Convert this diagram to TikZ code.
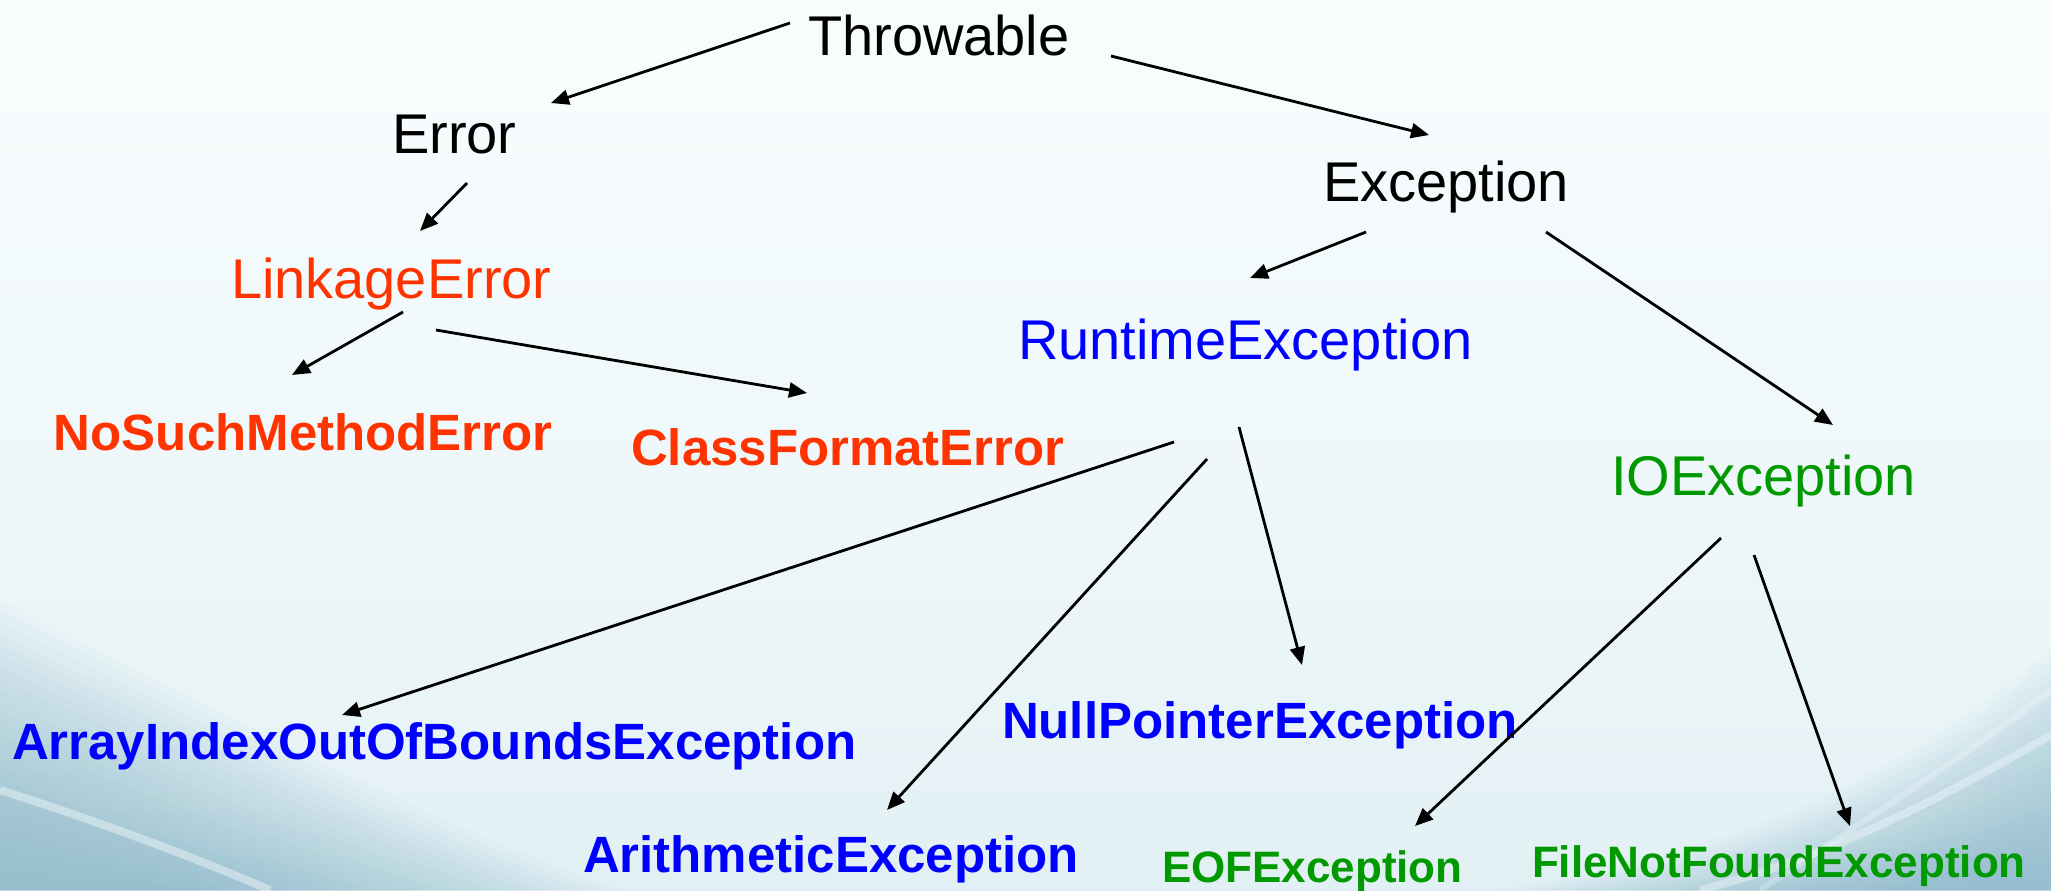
\documentclass[tikz,border=0pt]{standalone}
\usepackage{fontspec}
\setmainfont{Liberation Sans}
\usetikzlibrary{arrows.meta}
\definecolor{bgtop}{HTML}{F7FCFD}
\definecolor{bgmid}{HTML}{E9F4F7}
\definecolor{bgbot}{HTML}{CDE4EB}
\definecolor{swl}{HTML}{6FA9BE}
\definecolor{swr}{HTML}{6FAAC0}
\definecolor{errred}{HTML}{FF3300}
\definecolor{rtblue}{HTML}{0000FF}
\definecolor{iogreen}{HTML}{009900}
\pgfdeclareverticalshading{bgsh}{100bp}{color(0bp)=(bgbot); color(35bp)=(bgmid); color(70bp)=(bgtop); color(100bp)=(bgtop)}
\tikzset{
  lbl/.style={anchor=base west, inner sep=0pt, outer sep=0pt, font=\fontsize{28pt}{30pt}\selectfont},
  blbl/.style={anchor=base west, inner sep=0pt, outer sep=0pt, font=\fontsize{25.5pt}{27pt}\selectfont\bfseries},
  slbl/.style={anchor=base west, inner sep=0pt, outer sep=0pt, font=\fontsize{22pt}{24pt}\selectfont\bfseries},
  arr/.style={-{Triangle[length=9pt, width=7.5pt]}, line width=1.4pt, black},
}
\begin{document}
\begin{tikzpicture}[x=0.5pt, y=-0.5pt]
\useasboundingbox (0,0) rectangle (2051,890);
% background
\shade[shading=bgsh] (0,0) rectangle (2051,890);
\foreach \i in {0,...,24}{
  \fill[swl, opacity=0.035]
    (0,{600+11.2*\i}) .. controls ({200-4*\i},{700+8*\i}) and ({420-12*\i},{820+2.4*\i}) .. ({620-18*\i},890) -- (0,890) -- cycle;
  \fill[swr, opacity=0.035]
    (2051,{650+9.6*\i}) .. controls ({1920+3.2*\i},{760+4.8*\i}) and ({1760+8*\i},{850+1.6*\i}) .. ({1500+16*\i},890) -- (2051,890) -- cycle;
}
\draw[white, opacity=0.4, line width=4pt]
  (0,790) .. controls (110,825) and (200,860) .. (270,890);
\draw[white, opacity=0.35, line width=4pt]
  (2051,735) .. controls (1930,805) and (1820,860) .. (1700,890);
\draw[white, opacity=0.25, line width=3pt]
  (2051,690) .. controls (1960,760) and (1850,830) .. (1760,890);
% nodes
\node[lbl] (thr) at (808,55) {Throwable};
\node[lbl] (err) at (392,153) {Error};
\node[lbl] (exc) at (1323,201) {Exception};
\node[lbl, text=errred] (lnk) at (231,298) {LinkageError};
\node[lbl, text=rtblue] (rte) at (1018,359) {RuntimeException};
\node[lbl, text=iogreen] (ioe) at (1611,495) {IOException};
\node[blbl, text=errred] (nsm) at (54,450) {NoSuchMethodError};
\node[blbl, text=errred] (cfe) at (631,465) {ClassFormatError};
\node[blbl, text=rtblue] (aio) at (12,759) {ArrayIndexOutOfBoundsException};
\node[blbl, text=rtblue] (npe) at (1002,738) {NullPointerException};
\node[blbl, text=rtblue] (are) at (583,872) {ArithmeticException};
\node[slbl, text=iogreen] (eof) at (1162,882) {EOFException};
\node[slbl, text=iogreen] (fnf) at (1532,877) {FileNotFoundException};
% connector end points
\coordinate (thr-a) at (790,23);   \coordinate (err-t) at (551,103);
\coordinate (thr-b) at (1111,56);  \coordinate (exc-t) at (1429,135);
\coordinate (err-a) at (467,183);  \coordinate (lnk-t) at (420,231);
\coordinate (lnk-a) at (403,312);  \coordinate (nsm-t) at (292,375);
\coordinate (lnk-b) at (436,330);  \coordinate (cfe-t) at (807,393);
\coordinate (exc-a) at (1366,232); \coordinate (rte-t) at (1250,278);
\coordinate (exc-b) at (1546,232); \coordinate (ioe-t) at (1833,425);
\coordinate (rte-a) at (1174,442); \coordinate (aio-t) at (342,715);
\coordinate (rte-b) at (1207,459); \coordinate (are-t) at (887,810);
\coordinate (rte-c) at (1239,427); \coordinate (npe-t) at (1302,665);
\coordinate (ioe-a) at (1721,538); \coordinate (eof-t) at (1415,826);
\coordinate (ioe-b) at (1754,555); \coordinate (fnf-t) at (1850,826);
% connectors
\draw[arr] (thr-a) -- (err-t);
\draw[arr] (thr-b) -- (exc-t);
\draw[arr] (err-a) -- (lnk-t);
\draw[arr] (lnk-a) -- (nsm-t);
\draw[arr] (lnk-b) -- (cfe-t);
\draw[arr] (exc-a) -- (rte-t);
\draw[arr] (exc-b) -- (ioe-t);
\draw[arr] (rte-a) -- (aio-t);
\draw[arr] (rte-b) -- (are-t);
\draw[arr] (rte-c) -- (npe-t);
\draw[arr] (ioe-a) -- (eof-t);
\draw[arr] (ioe-b) -- (fnf-t);
\end{tikzpicture}
\end{document}
